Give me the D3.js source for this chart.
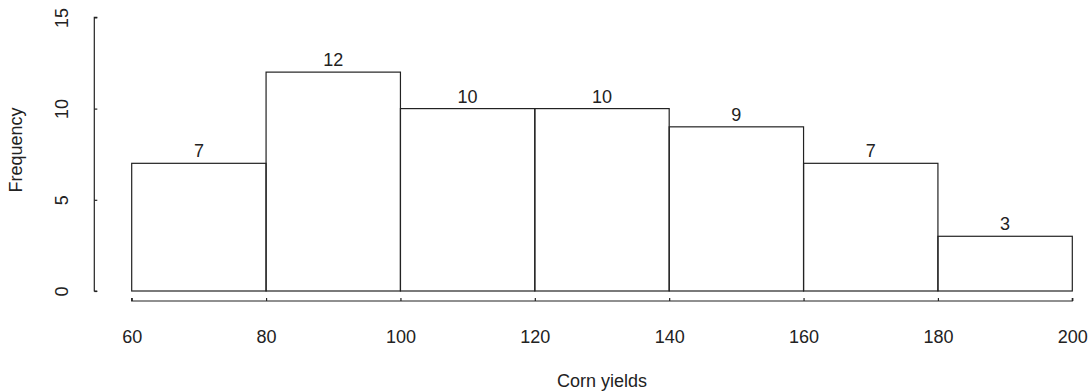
<!DOCTYPE html>
<html>
<head>
<meta charset="utf-8">
<script src="https://cdn.jsdelivr.net/npm/d3@7"></script>
<style>
  html, body { margin: 0; padding: 0; background: #fff; }
  svg { display: block; }
  text { font-family: "Liberation Sans", Arial, Helvetica, sans-serif; fill: #222; }
</style>
</head>
<body>
<svg id="chart" width="1091" height="391"></svg>
<script>
// Data
const binStarts = [60, 80, 100, 120, 140, 160, 180];
const binEnds   = [80, 100, 120, 140, 160, 180, 200];
const counts    = [7, 12, 10, 10, 9, 7, 3];
const xTicks    = [60, 80, 100, 120, 140, 160, 180, 200];
const yTicks    = [0, 5, 10, 15];
const xTitle = "Corn yields";
const yTitle = "Frequency";

const svg = d3.select("#chart");
const x = d3.scaleLinear().domain([60, 200]).range([131.7, 1072.3]);
const y = d3.scaleLinear().domain([0, 15]).range([291, 17.4]);
const fs = 18;
const stroke = "#222";

// Bars
const bars = binStarts.map((s, i) => ({ s, e: binEnds[i], c: counts[i] }));
svg.append("g").selectAll("rect").data(bars).join("rect")
  .attr("x", d => x(d.s))
  .attr("y", d => y(d.c))
  .attr("width", d => x(d.e) - x(d.s))
  .attr("height", d => y(0) - y(d.c))
  .attr("fill", "none")
  .attr("stroke", stroke)
  .attr("stroke-width", 1.2);

// Bar labels
svg.append("g").selectAll("text").data(bars).join("text")
  .attr("x", d => (x(d.s) + x(d.e)) / 2)
  .attr("y", d => y(d.c) - 6)
  .attr("text-anchor", "middle")
  .attr("font-size", fs)
  .text(d => d.c);

// X axis
const xAxis = d3.axisBottom(x).tickValues(xTicks).tickSize(-3).tickPadding(0).tickFormat(d3.format("d"));
const gx = svg.append("g").attr("transform", "translate(0,301)").call(xAxis);
gx.select(".domain").attr("stroke", stroke).attr("stroke-width", 1.2)
  .attr("d", `M${x(60)},-3V0H${x(200)}V-3`);
gx.selectAll(".tick line").attr("stroke", stroke).attr("stroke-width", 1.2);
gx.selectAll(".tick text").attr("font-size", fs).attr("fill", "#222")
  .attr("font-family", "Liberation Sans, Arial, sans-serif")
  .attr("y", 41.5).attr("dy", 0);

// Y axis
const yAxis = d3.axisLeft(y).tickValues(yTicks).tickSize(-3).tickPadding(0);
const gy = svg.append("g").attr("transform", "translate(94.3,0)").call(yAxis);
gy.select(".domain").attr("stroke", stroke).attr("stroke-width", 1.2)
  .attr("d", `M3,${y(0)}H0V${y(15)}H3`);
gy.selectAll(".tick line").attr("stroke", stroke).attr("stroke-width", 1.2);
gy.selectAll(".tick text").attr("font-size", fs).attr("fill", "#222")
  .attr("font-family", "Liberation Sans, Arial, sans-serif")
  .attr("x", null).attr("dy", 0)
  .attr("text-anchor", "middle")
  .attr("transform", "translate(-26,0) rotate(-90)")
  .attr("y", 0);

// Titles
svg.append("text")
  .attr("x", (x(60) + x(200)) / 2)
  .attr("y", 387)
  .attr("text-anchor", "middle")
  .attr("font-size", fs)
  .text(xTitle);

svg.append("text")
  .attr("transform", `translate(22,150) rotate(-90)`)
  .attr("text-anchor", "middle")
  .attr("font-size", fs)
  .text(yTitle);
</script>
</body>
</html>
